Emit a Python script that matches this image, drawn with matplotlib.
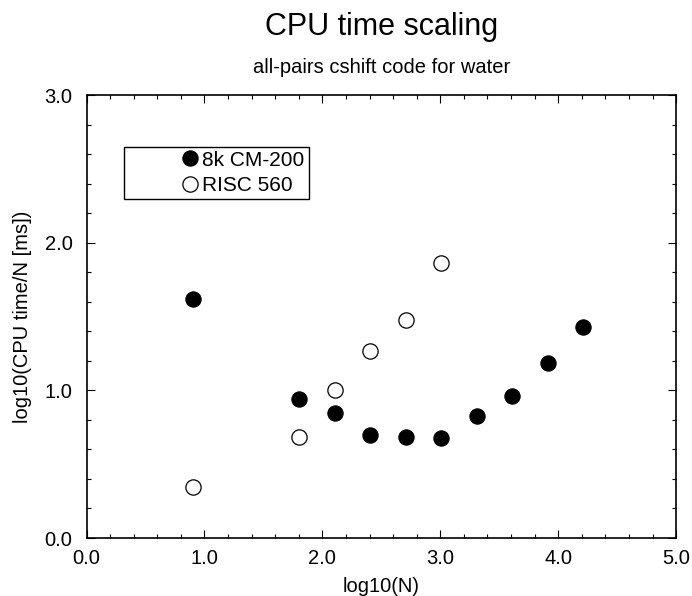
import matplotlib
matplotlib.use("Agg")
import matplotlib.pyplot as plt
from matplotlib.ticker import MultipleLocator, FormatStrFormatter

plt.rcParams['font.family'] = ['Liberation Sans', 'DejaVu Sans']

# log10 of problem size N = 8 ... 16384
cm200_logn = [0.903, 1.806, 2.107, 2.408, 2.709, 3.010, 3.311, 3.612, 3.913, 4.214]
cm200_logt = [1.616, 0.940, 0.846, 0.697, 0.684, 0.677, 0.826, 0.963, 1.183, 1.430]

risc_logn = [0.903, 1.806, 2.107, 2.408, 2.709, 3.010]
risc_logt = [0.347, 0.684, 1.000, 1.266, 1.476, 1.860]

fig = plt.figure(figsize=(6.92, 5.96), dpi=100)
ax = fig.add_axes([0.125, 0.0973, 0.852, 0.7433])

ax.plot(cm200_logn, cm200_logt, 'o', ms=11, mfc='black', mec='black',
        mew=0.8, ls='none', label='8k CM-200')
ax.plot(risc_logn, risc_logt, 'o', ms=11, mfc='white', mec='black',
        mew=0.9, ls='none', label='RISC 560')

ax.set_xlim(0, 5)
ax.set_ylim(0, 3)
ax.xaxis.set_major_locator(MultipleLocator(1.0))
ax.xaxis.set_minor_locator(MultipleLocator(0.2))
ax.yaxis.set_major_locator(MultipleLocator(1.0))
ax.yaxis.set_minor_locator(MultipleLocator(0.2))
ax.xaxis.set_major_formatter(FormatStrFormatter('%.1f'))
ax.yaxis.set_major_formatter(FormatStrFormatter('%.1f'))
ax.tick_params(which='both', direction='in', top=True, right=True,
               labelsize=14.5, width=0.8, color='black')
ax.tick_params(which='major', length=6)
ax.tick_params(which='minor', length=3)
ax.tick_params(axis='x', which='major', pad=8)
ax.tick_params(axis='y', which='major', pad=10)
for s in ax.spines.values():
    s.set_linewidth(1.2)

ax.set_xlabel('log10(N)', fontsize=14.5)
ax.set_ylabel('log10(CPU time/N [ms])', fontsize=14.5)
ax.xaxis.set_label_coords(0.5, -0.088)
ax.yaxis.set_label_coords(-0.093, 0.5)

fig.text(0.551, 1 - 35 / 596, 'CPU time scaling', ha='center', va='baseline',
         fontsize=22)
fig.text(0.551, 1 - 73 / 596, 'all-pairs cshift code for water', ha='center',
         va='baseline', fontsize=14.5)

leg = ax.legend(loc='upper left', bbox_to_anchor=(0.0636, 0.8835),
                borderaxespad=0, fontsize=15, handlelength=5.9,
                handletextpad=-2.35, borderpad=0.2, labelspacing=0.3,
                fancybox=False, edgecolor='black', framealpha=1)
leg.get_frame().set_linewidth(1.0)

fig.savefig('out.png', dpi=100)
